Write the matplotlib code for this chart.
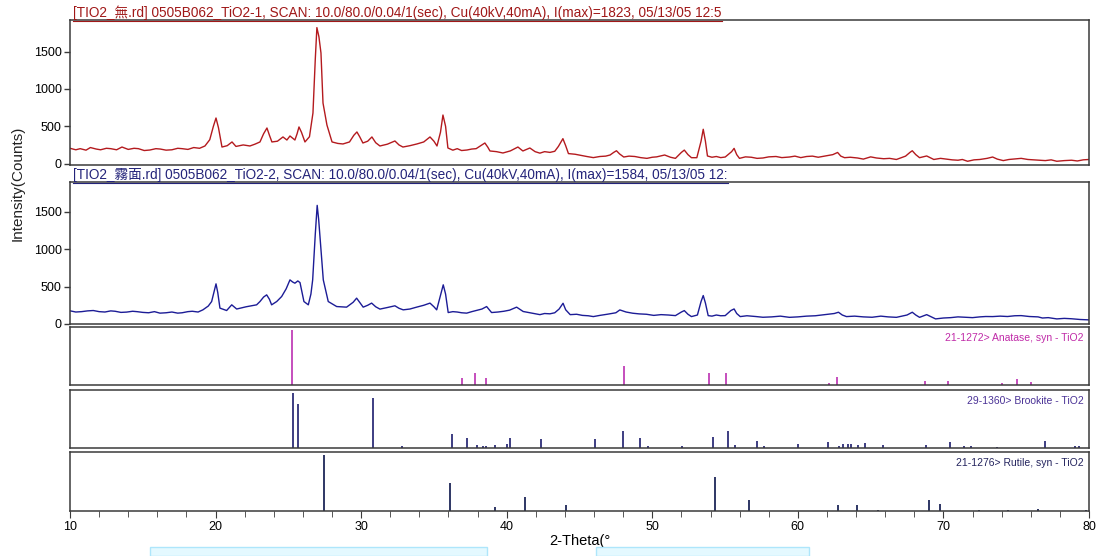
import matplotlib
matplotlib.use("Agg")
import matplotlib.pyplot as plt
from matplotlib.lines import Line2D
from matplotlib.patches import Rectangle
import numpy as np

plt.rcParams['font.family'] = ['Liberation Sans', 'Noto Sans CJK TC', 'DejaVu Sans']

red_theta = [10.0, 10.4, 10.7, 11.1, 11.4, 11.8, 12.1, 12.5, 12.8, 13.2, 13.57, 14.0, 14.4, 14.7, 15.1,
             15.49, 15.9, 16.2, 16.6, 17.0, 17.4, 17.7, 18.1, 18.5, 18.9, 19.27,
             19.6, 19.85, 20.03, 20.2, 20.44, 20.8, 21.13, 21.4, 21.9, 22.36, 22.7, 23.05, 23.3,
             23.53, 23.7, 23.87, 24.25, 24.63, 24.9, 25.11, 25.45, 25.6, 25.73, 25.9, 26.14, 26.45,
             26.69, 26.85, 26.96, 27.1, 27.24, 27.38, 27.65, 28.0, 28.4, 28.75, 29.2, 29.5, 29.71,
             29.9, 30.12, 30.45, 30.74, 31.0, 31.29, 31.8, 32.32, 32.6, 32.87, 33.35, 33.83, 34.3,
             34.73, 35.0, 35.21, 35.45, 35.62, 35.8, 35.96, 36.3, 36.6, 36.9, 37.27, 37.6, 37.9, 38.3, 38.5, 38.7,
             38.85, 39.3, 39.74, 40.25, 40.77, 41.11, 41.59, 41.95, 42.28, 42.6, 42.97, 43.3, 43.55, 43.86,
             44.05, 44.24, 44.7, 45.1, 45.5, 45.95, 46.4, 46.8, 47.1, 47.35, 47.54, 47.75, 48.04, 48.4, 48.8,
             49.2, 49.63, 50.0, 50.3, 50.85,
             51.25, 51.59, 52.0, 52.2, 52.45, 52.69, 53.06, 53.35, 53.5, 53.65, 53.79, 54.1, 54.4, 54.7, 55.01,
             55.45, 55.62, 55.8, 55.99, 56.4, 56.8, 57.2, 57.6, 58.0, 58.5, 58.9, 59.42, 59.8, 60.2, 60.6,
             61.0, 61.4, 61.87, 62.4, 62.73,
             62.95, 63.21, 63.6, 64.1, 64.5, 65.0, 65.4, 65.9, 66.3, 66.77, 67.4, 67.7, 67.86, 68.1, 68.36,
             68.85, 69.34, 69.8, 70.2, 70.6, 71.0, 71.3, 71.66, 72.1, 72.5, 73.0, 73.38, 73.7, 74.11, 74.5,
             74.8, 75.34, 75.8, 76.2, 76.6, 77.0, 77.4, 77.79, 78.3, 78.8, 79.2, 79.6, 80.0]
red_counts = [205, 185, 200, 180, 215, 195, 185, 205, 200, 185, 222, 190, 205, 200, 175,
              182, 200, 195, 180, 185, 205, 200, 190, 215, 205, 236,
              320, 500, 611, 480, 222, 240, 290, 230, 250, 236, 260, 290, 400,
              477, 380, 290, 300, 357, 316, 370, 316, 400, 491, 420, 290, 360,
              678, 1400, 1823, 1700, 1483, 812, 517, 290, 270, 263, 290, 380, 424,
              360, 276, 300, 357, 280, 236, 260, 303, 250, 222, 240, 263, 290,
              357, 300, 236, 420, 651, 500, 209, 180, 200, 175, 182, 195, 200, 250, 276, 220,
              169, 160, 142, 170, 222, 169, 209, 160, 140, 160, 150, 165, 230, 334,
              240, 134, 125, 110, 95, 80, 95, 100, 115, 150, 172, 130, 88, 100, 95,
              80, 70, 85, 90, 115,
              85, 70, 150, 181, 120, 79, 79, 300, 460, 300, 102, 85, 95, 80, 88,
              160, 204, 120, 70, 90, 85, 70, 75, 90, 95, 80, 88, 100, 80, 95,
              100, 85, 102, 120, 149,
              100, 79, 85, 75, 60, 90, 75, 65, 70, 55, 100, 150, 172, 120, 79,
              102, 55, 70, 60, 50, 45, 55, 31, 50, 55, 70, 88, 60, 40, 55,
              60, 70, 55, 50, 45, 40, 50, 31, 40, 45, 35, 50, 55]

blue_theta = [10.0, 10.4, 10.8, 11.2, 11.6, 12.0, 12.4, 12.8, 13.1, 13.5, 13.89, 14.3, 14.6, 15.0, 15.4,
              15.8, 16.18, 16.6, 17.0, 17.4, 17.7, 18.1, 18.4, 18.8, 19.13, 19.5,
              19.73, 20.03, 20.15, 20.3, 20.76, 21.11, 21.45, 22.1, 22.82, 23.05, 23.3, 23.51, 23.7,
              23.85, 24.2, 24.54, 24.85, 25.11, 25.3, 25.45, 25.65, 25.8, 26.07, 26.37, 26.55, 26.67,
              26.85, 26.98, 27.08, 27.17, 27.4, 27.74, 28.32, 29.0, 29.45, 29.69, 29.9, 30.14, 30.45,
              30.72, 31.0, 31.29, 31.8, 32.32, 32.6, 32.89, 33.35, 33.81, 34.3, 34.73, 35.0, 35.19,
              35.45, 35.64, 35.8, 35.98, 36.3, 36.6, 36.9, 37.25, 37.6, 37.9, 38.3, 38.62, 38.96, 39.4, 39.8, 40.2,
              40.68, 41.13, 41.6,
              42.28, 42.6, 42.97, 43.3, 43.6, 43.87, 44.05, 44.36, 44.8, 45.2, 45.6, 45.95, 46.4, 46.9, 47.5,
              47.77, 48.2, 48.65, 49.1, 49.6, 50.1, 50.6, 51.1, 51.59, 52.0, 52.2, 52.45, 52.69, 53.1, 53.35,
              53.5, 53.65, 53.84, 54.1, 54.4, 54.7,
              55.01, 55.4, 55.62, 55.8, 56.04, 56.5, 57.1, 57.6, 58.2, 58.8, 59.42, 60.0, 60.6, 61.2, 61.87,
              62.5, 62.79, 63.05, 63.34, 63.9, 64.5, 65.1, 65.7, 66.2, 66.77, 67.5, 67.86, 68.1, 68.36,
              68.85, 69.46, 70.0, 70.5, 71.0, 71.5, 72.0, 72.5, 72.9,
              73.38, 73.9, 74.4, 74.9, 75.34, 75.9, 76.5, 76.8, 77.2, 77.79, 78.3, 78.8, 79.4, 80.0]
blue_counts = [176, 160, 165, 175, 180, 165, 160, 175, 170, 155, 159, 170, 165, 155, 150,
               165, 145, 150, 160, 145, 150, 165, 170, 160, 189, 240,
               300, 536, 420, 212, 180, 256, 200, 230, 256, 300, 360, 389, 330,
               256, 300, 367, 470, 589, 560, 545, 575, 553, 300, 256, 400, 589,
               1200, 1584, 1400, 1167, 589, 300, 233, 225, 290, 345, 290, 225, 250,
               279, 230, 199, 220, 243, 210, 189, 200, 225, 250, 279, 230, 189,
               380, 523, 400, 153, 165, 160, 150, 145, 165, 180, 200, 233, 153, 160, 170, 185,
               225, 167, 150,
               125, 140, 136, 150, 200, 277, 190, 125, 130, 115, 110, 99, 115, 130, 150,
               188, 160, 144, 135, 130, 115, 125, 120, 112, 160, 179, 130, 99, 120, 300,
               380, 280, 112, 105, 120, 110,
               112, 180, 201, 140, 99, 110, 100, 90, 95, 105, 89, 95, 105, 110, 125,
               140, 157, 120, 99, 105, 95, 90, 105, 95, 89, 120, 157, 120, 89,
               125, 68, 80, 85, 95, 90, 85, 95, 100,
               99, 105, 100, 110, 112, 100, 95, 80, 85, 68, 75, 70, 60, 55]

# --- reference cards (2-theta, relative intensity) ---
anatase_theta = [25.28, 36.95, 37.80, 38.58, 48.05, 53.89, 55.06, 62.12, 62.69, 68.76, 70.31, 74.03, 75.03, 76.02]
anatase_int = [100, 12, 22, 12, 35, 21, 21, 4, 14, 8, 7, 3, 11, 5]

brookite_theta = [25.34, 25.69, 30.81, 32.79, 36.25, 37.30, 37.93, 38.37, 38.58, 39.21, 40.05, 40.25,
                  42.34, 46.07, 48.01, 49.17, 49.69, 52.01, 54.20, 55.23, 55.71, 57.18, 57.68, 59.99,
                  62.06, 62.85, 63.07, 63.42, 63.66, 64.10, 64.60, 65.88, 68.77, 70.43, 71.44, 71.88,
                  73.67, 76.95, 79.03, 79.28]
brookite_int = [100, 80, 90, 4, 25, 18, 6, 4, 4, 5, 8, 18,
                16, 16, 30, 18, 3, 3, 20, 30, 5, 13, 4, 7,
                10, 4, 7, 8, 8, 6, 9, 6, 5, 10, 3, 3,
                2, 13, 3, 3]

rutile_theta = [27.45, 36.09, 39.19, 41.23, 44.05, 54.32, 56.64, 62.74, 64.04, 65.48, 69.01, 69.79, 72.41, 74.41, 76.51, 79.82]
rutile_int = [100, 50, 8, 25, 10, 60, 20, 10, 10, 2, 20, 12, 2, 1, 4, 2]

title1 = "[TIO2_無.rd] 0505B062_TiO2-1, SCAN: 10.0/80.0/0.04/1(sec), Cu(40kV,40mA), I(max)=1823, 05/13/05 12:5"
title2 = "[TIO2_霧面.rd] 0505B062_TiO2-2, SCAN: 10.0/80.0/0.04/1(sec), Cu(40kV,40mA), I(max)=1584, 05/13/05 12:"
card_labels = ["21-1272> Anatase, syn - TiO2", "29-1360> Brookite - TiO2", "21-1276> Rutile, syn - TiO2"]

W, H = 1099, 556
fig = plt.figure(figsize=(W / 100, H / 100), dpi=100)

def box(top, bottom):
    return [70 / W, 1 - bottom / H, 1019 / W, (bottom - top) / H]

frame = '#3a3a3a'
ax1 = fig.add_axes(box(20, 165))
ax2 = fig.add_axes(box(182, 324))
ax3 = fig.add_axes(box(327, 385))
ax4 = fig.add_axes(box(390, 448))
ax5 = fig.add_axes(box(452, 511))
axes = [ax1, ax2, ax3, ax4, ax5]

ax1.plot(red_theta, red_counts, color='#b41a1e', lw=1.0)
ax2.plot(blue_theta, blue_counts, color='#1c1c96', lw=1.0)
ax1.set_ylim(-19, 1925)
ax2.set_ylim(0, 1896)

ax3.vlines(anatase_theta, 0, anatase_int, color='#c040b8', lw=1.3)
ax4.vlines(brookite_theta, 0, brookite_int, color='#2e2e78', lw=1.3)
ax5.vlines(rutile_theta, 0, rutile_int, color='#1e2658', lw=1.3)
label_colors = ['#c02aa8', '#4a3296', '#24245e']
for ax, lab, c in zip([ax3, ax4, ax5], card_labels, label_colors):
    ax.set_ylim(0, 105)
    ax.set_yticks([])
    ax.text(0.995, 0.9, lab, transform=ax.transAxes, ha='right', va='top', fontsize=7.5, color=c)

for ax in axes:
    ax.set_xlim(10, 80)
    for s in ax.spines.values():
        s.set_color(frame)
        s.set_linewidth(1.1)
    ax.tick_params(axis='x', bottom=False, labelbottom=False)

for ax in [ax1, ax2]:
    ax.set_yticks([0, 500, 1000, 1500])
    ax.tick_params(axis='y', direction='out', length=4, width=1, color=frame, labelsize=9, pad=2)

ax5.set_xticks(np.arange(10, 81, 10))
ax5.set_xticks(np.arange(10, 81, 2), minor=True)
ax5.tick_params(axis='x', which='both', bottom=True, labelbottom=True, direction='out', color=frame)
ax5.tick_params(axis='x', which='major', length=5, labelsize=9, pad=2)
ax5.tick_params(axis='x', which='minor', length=4)
ax5.set_xlabel("2-Theta(°", fontsize=10.5, labelpad=1)

fig.text(18 / W, 1 - 183 / H, "Intensity(Counts)", rotation=90, ha='center', va='center', fontsize=11, color='#222222')

t1 = fig.text(73 / W, 1 - 17 / H, title1, fontsize=9.8, color='#a01818', va='baseline')
t2 = fig.text(73 / W, 1 - 179 / H, title2, fontsize=9.8, color='#24247a', va='baseline')

# underline the scan titles
fig.canvas.draw()
r = fig.canvas.get_renderer()
for t in [t1, t2]:
    bb = t.get_window_extent(r)
    y = (bb.y0 - 0.5) / H
    fig.add_artist(Line2D([bb.x0 / W, bb.x1 / W], [y, y], color=t.get_color(), lw=0.8))

# light cyan strips along the bottom edge of the screenshot
for x0, x1 in [(150, 487), (596, 809)]:
    fig.add_artist(Rectangle((x0 / W, 0), (x1 - x0) / W, 9 / H, transform=fig.transFigure,
                             facecolor='#e4f9ff', edgecolor='#aee6fb', lw=1))

fig.savefig('out.png', dpi=100)
